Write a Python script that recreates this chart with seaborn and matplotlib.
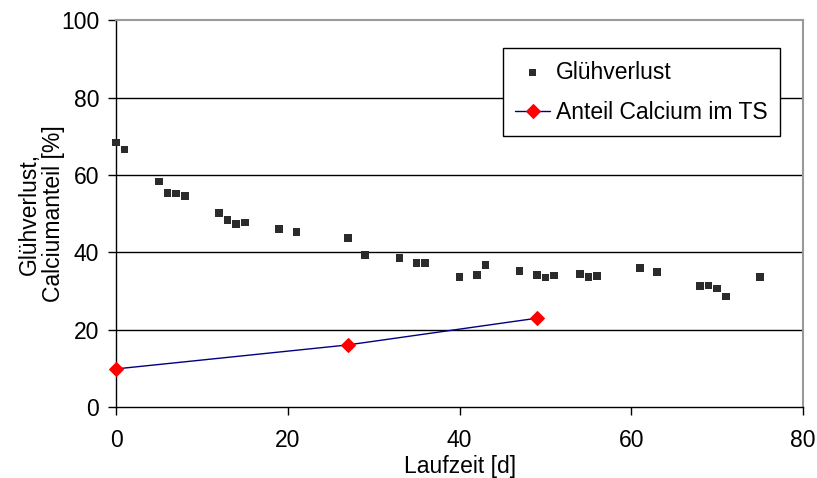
import matplotlib
matplotlib.use("Agg")
from matplotlib import pyplot as plt
import pandas as pd
import seaborn as sns

# Glühverlust (ignition loss) over running time
laufzeit_gv = [0, 1, 5, 6, 7, 8, 12, 13, 14, 15, 19, 21, 27, 29, 33, 35, 36,
               40, 42, 43, 47, 49, 50, 51, 54, 55, 56, 61, 63, 68, 69, 70, 71, 75]
gluehverlust = [68.4, 66.6, 58.3, 55.4, 55.2, 54.6, 50.1, 48.4, 47.3, 47.7, 46.0,
                45.3, 43.7, 39.3, 38.6, 37.3, 37.2, 33.7, 34.1, 36.7, 35.2, 34.2,
                33.5, 34.0, 34.4, 33.7, 33.9, 36.0, 35.0, 31.3, 31.4, 30.7, 28.6, 33.6]

# Anteil Calcium im TS
laufzeit_ca = [0, 27, 49]
calcium = [9.9, 16.1, 23.0]

df_gv = pd.DataFrame({"Laufzeit": laufzeit_gv, "Wert": gluehverlust})
df_ca = pd.DataFrame({"Laufzeit": laufzeit_ca, "Wert": calcium})

sns.set_style("white")
plt.rcParams["font.family"] = ["Liberation Sans", "DejaVu Sans"]
plt.rcParams["text.color"] = "black"
plt.rcParams["axes.labelcolor"] = "black"
plt.rcParams["xtick.color"] = "black"
plt.rcParams["ytick.color"] = "black"

fs = 16.5

fig = plt.figure(figsize=(8.17, 4.78), dpi=100)
ax = fig.add_axes([0.142, 0.148, 0.841, 0.810])

# horizontal grid lines
for yv in [20, 40, 60, 80]:
    ax.axhline(yv, color="black", lw=1.0, zorder=0)

sns.scatterplot(data=df_gv, x="Laufzeit", y="Wert", marker="s", s=30,
                color="#2b2b2b", edgecolor="none", label="Glühverlust",
                ax=ax, zorder=3, clip_on=False)
sns.lineplot(data=df_ca, x="Laufzeit", y="Wert", color="#000080", lw=1.0,
             marker="D", markersize=7, markerfacecolor="red",
             markeredgecolor="red", label="Anteil Calcium im TS",
             ax=ax, zorder=4, clip_on=False)

ax.set_xlim(0, 80)
ax.set_ylim(0, 100)
ax.set_xticks(range(0, 81, 20))
ax.set_yticks(range(0, 101, 20))
ax.tick_params(axis="both", direction="out", length=6, width=1, color="black",
               labelsize=fs, left=True, bottom=True)
ax.tick_params(axis="x", pad=10)
ax.tick_params(axis="y", pad=6)

for side in ["left", "bottom"]:
    ax.spines[side].set_color("black")
    ax.spines[side].set_linewidth(1.0)
for side in ["top", "right"]:
    ax.spines[side].set_color("#999999")
    ax.spines[side].set_linewidth(1.5)

ax.set_xlabel("Laufzeit [d]", fontsize=fs, labelpad=2)
ax.set_ylabel("Glühverlust,\nCalciumanteil [%]", fontsize=fs, labelpad=-3,
              linespacing=1.05)

leg = ax.legend(loc="upper left", bbox_to_anchor=(0.563, 0.928), fontsize=fs,
                frameon=True, fancybox=False, edgecolor="black", framealpha=1,
                borderpad=0.55, labelspacing=0.75, handlelength=1.5,
                handletextpad=0.25, borderaxespad=0)
leg.get_frame().set_linewidth(1.0)

plt.savefig("out.png", dpi=100)
